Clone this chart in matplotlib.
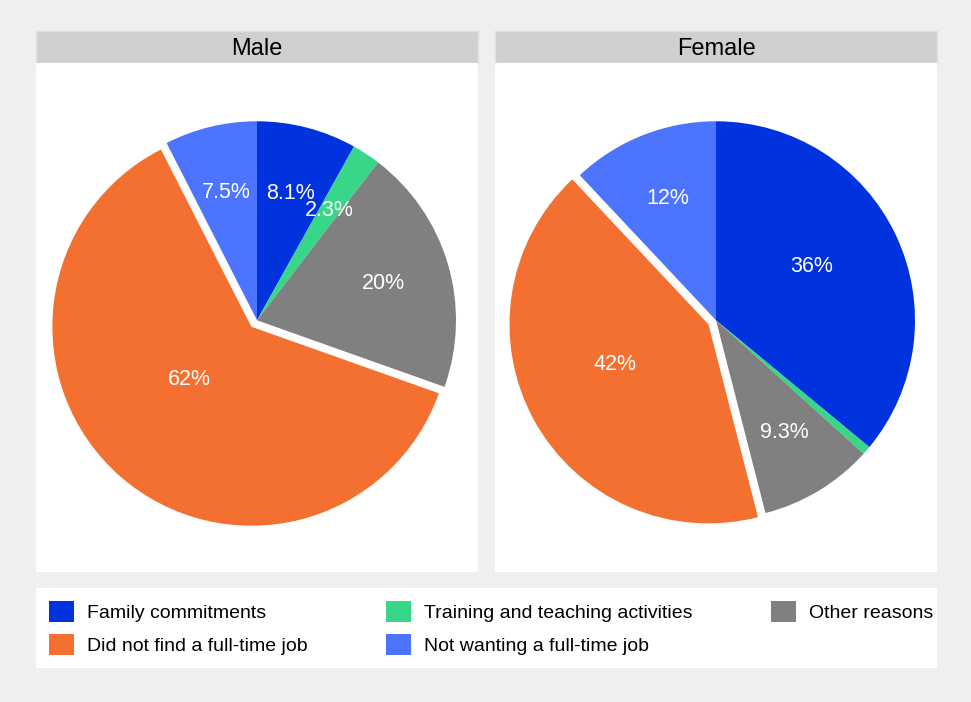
import numpy as np
import matplotlib.pyplot as plt
from matplotlib.patches import Patch

plt.rcParams['font.family'] = ['Liberation Sans', 'DejaVu Sans']

# data
reasons = ['Family commitments', 'Training and teaching activities', 'Other reasons',
           'Did not find a full-time job', 'Not wanting a full-time job']
male = [8.1, 2.3, 20, 62, 7.5]
female = [36, 0.7, 9.3, 42, 12]
colors = ['#0033dd', '#38d688', '#808080', '#f37030', '#4d74ff']
explode = [0, 0, 0, 0.043, 0]

# label placement tweaks for the big slices: (radius, clockwise shift in deg)
label_nudge = {('Male', 3): (0.41, 8.5),
               ('Female', 0): (0.55, -4.2),
               ('Female', 3): (0.51, 5.4)}

W, H = 971, 702
fig = plt.figure(figsize=(W / 100, H / 100), dpi=100)
fig.patch.set_facecolor('#efefef')


def fx(px):
    return px / W


def fy(py):
    return 1 - py / H


def pct_fmt(p):
    if p < 1:
        return ''
    return f'{p:.2g}%'


panels = [('Male', male, 36, 478), ('Female', female, 495, 937)]
for title, vals, x0, x1 in panels:
    # strip
    sax = fig.add_axes([fx(x0), fy(63), fx(x1 - x0), (63 - 31) / H])
    sax.set_facecolor('#d0d0d0')
    sax.set_xticks([])
    sax.set_yticks([])
    for s in sax.spines.values():
        s.set_color('#dbe2e8')
        s.set_linewidth(1)
    sax.text(0.5, 0.45, title, ha='center', va='center', fontsize=17,
             transform=sax.transAxes)

    # pie panel
    ax = fig.add_axes([fx(x0), fy(572), fx(x1 - x0), (572 - 63) / H])
    wedges, texts, autotexts = ax.pie(
        vals, colors=colors, explode=explode, startangle=90, counterclock=False,
        autopct=pct_fmt, pctdistance=0.66,
        wedgeprops=dict(linewidth=0),
        textprops=dict(color='white', fontsize=15.5))
    for i, (w, t) in enumerate(zip(wedges, autotexts)):
        if (title, i) not in label_nudge:
            continue
        d, shift = label_nudge[(title, i)]
        ang = np.deg2rad((w.theta1 + w.theta2) / 2 - shift)
        cx, cy = w.center
        t.set_position((cx + d * np.cos(ang), cy + d * np.sin(ang)))
    sc = 199
    dy = 0.014
    ax.set_xlim(-(x1 - x0) / 2 / sc, (x1 - x0) / 2 / sc)
    ax.set_ylim(-(572 - 63) / 2 / sc + dy, (572 - 63) / 2 / sc + dy)
    ax.set_aspect('auto')
    ax.set_frame_on(True)
    ax.set_facecolor('white')
    ax.set_xticks([])
    ax.set_yticks([])
    for s in ax.spines.values():
        s.set_visible(False)

# legend box
lax = fig.add_axes([fx(36), fy(668), fx(937 - 36), (668 - 588) / H])
lax.set_facecolor('white')
lax.set_xticks([])
lax.set_yticks([])
for s in lax.spines.values():
    s.set_visible(False)

handles = [Patch(facecolor=c, edgecolor='none', label=r) for c, r in zip(colors, reasons)]
order = [0, 3, 1, 4, 2]
lax.legend([handles[i] for i in order], [reasons[i] for i in order],
           ncol=3, loc='center left', bbox_to_anchor=(0.0, 0.5), frameon=False,
           fontsize=14, handlelength=1.3, handleheight=1.3, handletextpad=0.65,
           columnspacing=4.05, labelspacing=0.62, borderaxespad=0.25)

fig.savefig('out.png', dpi=100, facecolor=fig.get_facecolor())
